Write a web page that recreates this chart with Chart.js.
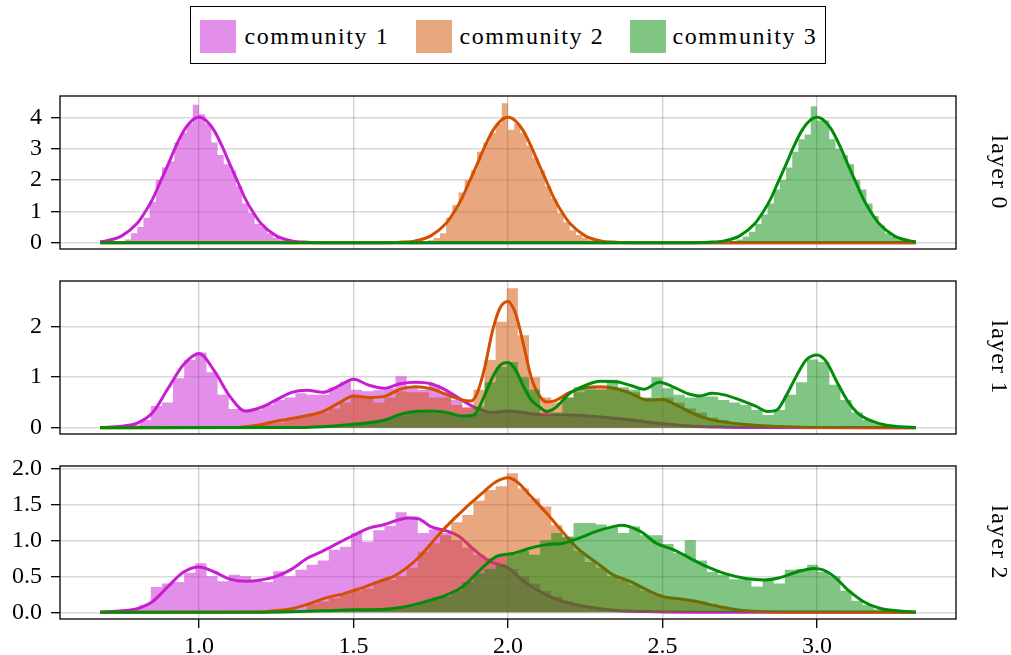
<!DOCTYPE html>
<html>
<head>
<meta charset="utf-8">
<script src="https://cdn.jsdelivr.net/npm/chart.js@4.4.1/dist/chart.umd.min.js"></script>
<style>
  html, body { margin: 0; padding: 0; background: #fff; }
  body { width: 1011px; height: 655px; overflow: hidden; position: relative; font-family: 'Liberation Serif', serif; }
  .panel { position: absolute; left: 0; }
  #legend { position: absolute; left: 190px; top: 6px; width: 636px; height: 58px; box-sizing: border-box; border: 1.5px solid #000; background: #fff; }
  .sw { position: absolute; top: 12.5px; width: 36px; height: 33px; }
  .lbl { position: absolute; top: 2px; height: 55px; line-height: 55px; font-size: 24px; letter-spacing: 1.6px; white-space: nowrap; color: #000; }
</style>
</head>
<body>
<div id="legend">
  <div class="sw" style="left:8.5px;background:rgba(200,30,210,0.5)"></div>
  <div class="lbl" style="left:53.5px">community 1</div>
  <div class="sw" style="left:224.5px;background:rgba(210,80,0,0.5)"></div>
  <div class="lbl" style="left:268.5px">community 2</div>
  <div class="sw" style="left:438.5px;background:rgba(2,140,10,0.5)"></div>
  <div class="lbl" style="left:481.5px">community 3</div>
</div>
<div class="panel" style="top:86px"><canvas id="c0" width="1011" height="173"></canvas></div>
<div class="panel" style="top:271px"><canvas id="c1" width="1011" height="173"></canvas></div>
<div class="panel" style="top:456px"><canvas id="c2" width="1011" height="199"></canvas></div>
<script>
// ---- community colours ----
const COLORS = ['200,30,210', '210,80,0', '2,140,10'];
const FONT = "'Liberation Serif', serif";

// ---- shared x range ----
const X_MIN = 0.55, X_MAX = 3.45;

// ================= layer 0 =================
const l0BinWidth = 0.02;
const l0HistStart = [0.74, 1.72, 2.72];
const l0HistC1 = [0.05, 0.1, 0.3, 0.5, 0.8, 1.3, 2.0, 2.4, 2.6, 3.2, 3.5, 3.8, 4.4, 4.1, 3.8, 3.2, 2.8, 2.5, 2.3, 1.8, 1.25, 0.95, 0.6, 0.5, 0.3, 0.15, 0.08, 0.04];
const l0HistC2 = [0.04, 0.08, 0.15, 0.3, 0.8, 1.2, 1.6, 2.0, 2.3, 2.9, 3.2, 3.5, 3.8, 4.45, 3.6, 3.8, 3.5, 3.1, 2.7, 2.3, 1.8, 1.4, 0.95, 0.65, 0.4, 0.25, 0.15, 0.08];
const l0HistC3 = [0.05, 0.1, 0.2, 0.35, 0.6, 0.9, 1.25, 1.7, 2.0, 2.4, 2.9, 3.3, 3.45, 4.35, 3.9, 3.9, 3.3, 3.0, 2.8, 2.5, 2.0, 1.7, 1.25, 0.85, 0.55, 0.3, 0.2, 0.1, 0.05];

const l0KdeXC1 = [0.68, 0.70, 0.75, 0.80, 0.825, 0.85, 0.875, 0.90, 0.925, 0.95, 0.975, 1.00, 1.025, 1.05, 1.075, 1.10, 1.125, 1.15, 1.175, 1.20, 1.25, 1.30, 1.35, 1.42, 3.32];
const l0KdeYC1 = [0.03, 0.06, 0.22, 0.62, 0.97, 1.4, 1.95, 2.5, 3.07, 3.56, 3.88, 4.0, 3.88, 3.56, 3.07, 2.5, 1.95, 1.4, 0.97, 0.62, 0.22, 0.06, 0.015, 0.002, 0];
const l0KdeXC2 = [0.68, 1.58, 1.65, 1.70, 1.75, 1.80, 1.825, 1.85, 1.875, 1.90, 1.925, 1.95, 1.975, 2.00, 2.025, 2.05, 2.075, 2.10, 2.125, 2.15, 2.175, 2.20, 2.25, 2.30, 2.35, 2.42, 3.32];
const l0KdeYC2 = [0, 0.002, 0.015, 0.06, 0.22, 0.62, 0.97, 1.4, 1.95, 2.5, 3.07, 3.56, 3.88, 4.0, 3.88, 3.56, 3.07, 2.5, 1.95, 1.4, 0.97, 0.62, 0.22, 0.06, 0.015, 0.002, 0];
const l0KdeXC3 = [0.68, 2.58, 2.65, 2.70, 2.75, 2.80, 2.825, 2.85, 2.875, 2.90, 2.925, 2.95, 2.975, 3.00, 3.025, 3.05, 3.075, 3.10, 3.125, 3.15, 3.175, 3.20, 3.25, 3.30, 3.32];
const l0KdeYC3 = [0, 0.002, 0.015, 0.06, 0.22, 0.62, 0.97, 1.4, 1.95, 2.5, 3.07, 3.56, 3.88, 4.0, 3.88, 3.56, 3.07, 2.5, 1.95, 1.4, 0.97, 0.62, 0.22, 0.06, 0.03];

// ================= layer 1 =================
const l1BinWidth = 0.036;
const l1HistStart = [0.736, 1.132, 1.42];
const l1HistC1 = [0.02, 0.05, 0.15, 0.43, 0.5, 0.98, 1.34, 1.49, 1.1, 0.65, 0.37, 0.35, 0.35, 0.45, 0.55, 0.6, 0.68, 0.65, 0.65, 0.79, 0.91, 0.75, 0.72, 0.74, 0.78, 1.02, 0.8, 0.75, 0.85, 0.7, 0.55, 0.4, 0.3, 0.3, 0.3, 0.35, 0.3, 0.3, 0.25, 0.22, 0.22, 0.22, 0.22, 0.22, 0.2, 0.18, 0.15, 0.12, 0.1, 0.08, 0.06, 0.04, 0.02];
const l1HistC2 = [0.02, 0.05, 0.08, 0.1, 0.15, 0.2, 0.25, 0.3, 0.38, 0.5, 0.65, 0.6, 0.5, 0.6, 0.72, 0.7, 0.7, 0.6, 0.6, 0.45, 0.4, 0.75, 1.34, 2.1, 2.76, 1.83, 1.0, 0.6, 0.5, 0.6, 0.7, 0.75, 0.8, 0.8, 0.75, 0.7, 0.58, 0.55, 0.6, 0.5, 0.38, 0.3, 0.2, 0.15, 0.1, 0.07, 0.05, 0.03, 0.02];
const l1HistC3 = [0.03, 0.05, 0.07, 0.1, 0.13, 0.18, 0.24, 0.3, 0.32, 0.32, 0.3, 0.25, 0.22, 0.42, 0.9, 1.2, 1.3, 1.0, 0.75, 0.25, 0.3, 0.6, 0.8, 0.8, 0.75, 0.95, 0.8, 0.75, 0.6, 1.0, 0.78, 0.65, 0.6, 0.62, 0.62, 0.55, 0.5, 0.45, 0.35, 0.25, 0.35, 0.65, 0.9, 1.35, 1.3, 0.85, 0.55, 0.3, 0.15, 0.08, 0.03, 0.01];

const l1KdeXC1 = [0.68, 0.75, 0.80, 0.85, 0.90, 0.95, 1.00, 1.05, 1.10, 1.15, 1.20, 1.25, 1.30, 1.35, 1.40, 1.45, 1.50, 1.55, 1.60, 1.65, 1.70, 1.75, 1.80, 1.85, 1.90, 1.95, 2.00, 2.05, 2.10, 2.20, 2.30, 2.40, 2.50, 2.60, 2.70, 2.80, 3.32];
const l1KdeYC1 = [0.005, 0.03, 0.09, 0.3, 0.78, 1.25, 1.47, 1.12, 0.62, 0.33, 0.4, 0.55, 0.7, 0.74, 0.7, 0.82, 0.96, 0.84, 0.78, 0.87, 0.9, 0.87, 0.74, 0.55, 0.38, 0.3, 0.33, 0.3, 0.26, 0.25, 0.21, 0.15, 0.08, 0.03, 0.01, 0.002, 0];
const l1KdeXC2 = [0.68, 1.10, 1.15, 1.20, 1.25, 1.30, 1.35, 1.40, 1.45, 1.50, 1.55, 1.60, 1.65, 1.70, 1.75, 1.80, 1.85, 1.88, 1.90, 1.925, 1.95, 1.975, 2.00, 2.025, 2.05, 2.075, 2.10, 2.125, 2.15, 2.20, 2.25, 2.30, 2.35, 2.40, 2.45, 2.50, 2.55, 2.60, 2.65, 2.70, 2.80, 2.90, 3.00, 3.32];
const l1KdeYC2 = [0, 0.003, 0.02, 0.06, 0.13, 0.18, 0.24, 0.32, 0.48, 0.63, 0.6, 0.62, 0.76, 0.81, 0.77, 0.66, 0.55, 0.53, 0.68, 1.2, 1.92, 2.38, 2.5, 2.25, 1.65, 1.0, 0.65, 0.51, 0.53, 0.7, 0.79, 0.81, 0.77, 0.67, 0.55, 0.56, 0.43, 0.28, 0.17, 0.11, 0.05, 0.02, 0.005, 0];
const l1KdeXC3 = [0.68, 1.30, 1.40, 1.45, 1.50, 1.55, 1.60, 1.65, 1.70, 1.75, 1.80, 1.85, 1.89, 1.92, 1.95, 1.975, 2.00, 2.025, 2.05, 2.075, 2.10, 2.125, 2.15, 2.20, 2.25, 2.30, 2.35, 2.40, 2.44, 2.49, 2.53, 2.58, 2.62, 2.66, 2.70, 2.75, 2.80, 2.84, 2.87, 2.90, 2.935, 2.965, 3.00, 3.03, 3.065, 3.10, 3.13, 3.17, 3.225, 3.32];
const l1KdeYC3 = [0, 0.003, 0.02, 0.04, 0.07, 0.1, 0.15, 0.26, 0.32, 0.33, 0.3, 0.23, 0.25, 0.58, 1.0, 1.24, 1.29, 1.14, 0.82, 0.55, 0.42, 0.32, 0.38, 0.68, 0.84, 0.92, 0.91, 0.83, 0.76, 0.9, 0.82, 0.68, 0.63, 0.68, 0.65, 0.55, 0.43, 0.32, 0.35, 0.63, 1.04, 1.34, 1.44, 1.31, 0.9, 0.52, 0.3, 0.15, 0.05, 0.005];

// ================= layer 2 =================
const l2BinWidth = 0.036;
const l2HistStart = [0.772, 1.276, 1.42];
const l2HistC1 = [0.04, 0.1, 0.35, 0.4, 0.42, 0.55, 0.68, 0.5, 0.43, 0.52, 0.5, 0.45, 0.42, 0.57, 0.5, 0.59, 0.66, 0.72, 0.87, 0.91, 1.1, 0.98, 1.14, 1.2, 1.39, 1.33, 1.1, 1.15, 1.1, 1.0, 0.9, 0.8, 0.75, 0.8, 0.6, 0.5, 0.4, 0.3, 0.22, 0.15, 0.1, 0.08, 0.05, 0.03, 0.02, 0.01];
const l2HistC2 = [0.02, 0.03, 0.12, 0.15, 0.2, 0.25, 0.3, 0.33, 0.43, 0.45, 0.5, 0.62, 0.84, 0.96, 1.07, 1.25, 1.35, 1.55, 1.7, 1.75, 1.93, 1.72, 1.58, 1.47, 1.21, 1.05, 0.85, 0.7, 0.62, 0.5, 0.45, 0.38, 0.3, 0.25, 0.2, 0.18, 0.17, 0.15, 0.12, 0.08, 0.05, 0.03, 0.02];
const l2HistC3 = [0.01, 0.02, 0.03, 0.04, 0.05, 0.05, 0.07, 0.09, 0.14, 0.18, 0.22, 0.3, 0.42, 0.54, 0.6, 0.66, 0.8, 0.85, 0.8, 1.0, 1.1, 1.05, 1.24, 1.24, 1.22, 1.18, 1.1, 1.19, 1.07, 1.07, 0.95, 0.82, 1.0, 0.72, 0.56, 0.52, 0.46, 0.46, 0.36, 0.45, 0.4, 0.59, 0.6, 0.66, 0.56, 0.5, 0.3, 0.16, 0.1, 0.04, 0.02, 0.01];

const l2KdeXC1 = [0.68, 0.75, 0.80, 0.85, 0.90, 0.95, 1.00, 1.05, 1.10, 1.15, 1.20, 1.25, 1.30, 1.35, 1.40, 1.45, 1.50, 1.55, 1.60, 1.65, 1.68, 1.71, 1.75, 1.80, 1.84, 1.89, 1.94, 2.00, 2.04, 2.09, 2.15, 2.20, 2.25, 2.34, 2.45, 2.60, 3.32];
const l2KdeYC1 = [0.003, 0.02, 0.05, 0.15, 0.36, 0.56, 0.63, 0.56, 0.46, 0.43, 0.45, 0.5, 0.6, 0.75, 0.85, 0.96, 1.07, 1.17, 1.22, 1.29, 1.31, 1.3, 1.19, 1.13, 1.06, 0.87, 0.71, 0.62, 0.47, 0.32, 0.19, 0.125, 0.08, 0.03, 0.01, 0.002, 0];
const l2KdeXC2 = [0.68, 1.20, 1.24, 1.30, 1.36, 1.41, 1.47, 1.52, 1.59, 1.63, 1.67, 1.72, 1.76, 1.80, 1.855, 1.91, 1.96, 2.00, 2.03, 2.07, 2.125, 2.18, 2.23, 2.29, 2.34, 2.395, 2.45, 2.50, 2.56, 2.61, 2.66, 2.72, 2.77, 2.88, 3.32];
const l2KdeYC2 = [0, 0.005, 0.02, 0.05, 0.125, 0.2, 0.26, 0.33, 0.44, 0.5, 0.61, 0.8, 1.0, 1.19, 1.42, 1.63, 1.81, 1.87, 1.81, 1.63, 1.375, 1.1, 0.87, 0.68, 0.52, 0.43, 0.31, 0.22, 0.185, 0.15, 0.1, 0.05, 0.02, 0.005, 0];
const l2KdeXC3 = [0.68, 1.20, 1.30, 1.40, 1.50, 1.59, 1.64, 1.69, 1.75, 1.80, 1.855, 1.91, 1.96, 2.02, 2.07, 2.125, 2.18, 2.23, 2.29, 2.34, 2.37, 2.43, 2.48, 2.535, 2.59, 2.64, 2.70, 2.77, 2.83, 2.88, 2.935, 2.99, 3.02, 3.055, 3.10, 3.15, 3.20, 3.26, 3.32];
const l2KdeYC3 = [0, 0.002, 0.008, 0.02, 0.035, 0.04, 0.06, 0.1, 0.17, 0.24, 0.36, 0.59, 0.77, 0.82, 0.89, 0.94, 0.96, 1.03, 1.13, 1.19, 1.21, 1.12, 0.96, 0.87, 0.75, 0.64, 0.54, 0.47, 0.45, 0.48, 0.56, 0.61, 0.59, 0.5, 0.31, 0.15, 0.06, 0.02, 0.005];

// ---- point builders ----
function histPoints(start, width, heights) {
  const pts = heights.map((h, i) => ({ x: start + i * width, y: h }));
  pts.push({ x: start + heights.length * width, y: 0 });
  return pts;
}
function kdePoints(xs, ys) {
  return xs.map((x, i) => ({ x: x, y: ys[i] }));
}

// histogram fill then density line, community 3 drawn on top
function panelDatasets(hists, kdes) {
  const ds = [];
  for (let c = 0; c < 3; c++) {
    ds.push({
      data: hists[c], stepped: 'before', fill: 'origin',
      backgroundColor: `rgba(${COLORS[c]},0.5)`, borderColor: 'rgba(0,0,0,0)', borderWidth: 0,
      pointRadius: 0, order: 5 - 2 * c
    });
    ds.push({
      data: kdes[c], fill: false, borderColor: `rgb(${COLORS[c]})`, borderWidth: 3,
      pointRadius: 0, cubicInterpolationMode: 'monotone', order: 4 - 2 * c
    });
  }
  return ds;
}

// frame around the plot area plus the rotated layer caption on the right
const framePlugin = {
  id: 'frame',
  afterDraw(chart, args, opts) {
    const { ctx, chartArea: a } = chart;
    ctx.save();
    ctx.strokeStyle = '#000';
    ctx.lineWidth = 1.3;
    ctx.strokeRect(a.left, a.top, a.right - a.left, a.bottom - a.top);
    ctx.fillStyle = '#000';
    ctx.font = `24px ${FONT}`;
    ctx.letterSpacing = '1.2px';
    ctx.translate(992, (a.top + a.bottom) / 2);
    ctx.rotate(Math.PI / 2);
    ctx.textAlign = 'center';
    ctx.textBaseline = 'alphabetic';
    ctx.fillText(opts.label, 0, 0);
    ctx.restore();
  }
};

Chart.defaults.font.family = FONT;
Chart.defaults.color = '#000';

function makePanel(id, cfg) {
  const bottomAxis = cfg.showX;
  new Chart(document.getElementById(id), {
    type: 'line',
    data: { datasets: panelDatasets(cfg.hists, cfg.kdes) },
    options: {
      responsive: false, animation: false, devicePixelRatio: 1,
      layout: { padding: { top: 10, right: 55, bottom: bottomAxis ? 0 : 10, left: 0 } },
      plugins: { legend: { display: false }, tooltip: { enabled: false }, frame: { label: cfg.label } },
      scales: {
        x: {
          type: 'linear', min: X_MIN, max: X_MAX,
          border: { display: false },
          grid: { color: 'rgba(0,0,0,0.18)', lineWidth: 1.4, drawTicks: bottomAxis, tickLength: 9, tickColor: '#000', tickWidth: 1.3 },
          ticks: { display: bottomAxis, stepSize: 0.5, includeBounds: false, padding: 4, font: { size: 24 }, color: '#000', maxRotation: 0,
                   callback: v => v.toFixed(1) },
          afterFit: s => { s.height = bottomAxis ? 36 : 0; s.paddingLeft = 0; s.paddingRight = 0; }
        },
        y: {
          min: cfg.yMin, max: cfg.yMax,
          border: { display: false },
          grid: { color: 'rgba(0,0,0,0.15)', lineWidth: 1.4, drawTicks: true, tickLength: 9, tickColor: '#000', tickWidth: 1.3 },
          ticks: { stepSize: cfg.yStep, includeBounds: false, padding: 9, font: { size: 24 }, color: '#000',
                   callback: v => v.toFixed(cfg.yDigits) },
          afterFit: s => { s.width = 60; s.paddingTop = 0; s.paddingBottom = 0; }
        }
      }
    },
    plugins: [framePlugin]
  });
}

makePanel('c0', {
  label: 'layer 0', showX: false, yMin: -0.2, yMax: 4.68, yStep: 1, yDigits: 0,
  hists: [histPoints(l0HistStart[0], l0BinWidth, l0HistC1), histPoints(l0HistStart[1], l0BinWidth, l0HistC2), histPoints(l0HistStart[2], l0BinWidth, l0HistC3)],
  kdes: [kdePoints(l0KdeXC1, l0KdeYC1), kdePoints(l0KdeXC2, l0KdeYC2), kdePoints(l0KdeXC3, l0KdeYC3)]
});
makePanel('c1', {
  label: 'layer 1', showX: false, yMin: -0.125, yMax: 2.905, yStep: 1, yDigits: 0,
  hists: [histPoints(l1HistStart[0], l1BinWidth, l1HistC1), histPoints(l1HistStart[1], l1BinWidth, l1HistC2), histPoints(l1HistStart[2], l1BinWidth, l1HistC3)],
  kdes: [kdePoints(l1KdeXC1, l1KdeYC1), kdePoints(l1KdeXC2, l1KdeYC2), kdePoints(l1KdeXC3, l1KdeYC3)]
});
makePanel('c2', {
  label: 'layer 2', showX: true, yMin: -0.093, yMax: 2.032, yStep: 0.5, yDigits: 1,
  hists: [histPoints(l2HistStart[0], l2BinWidth, l2HistC1), histPoints(l2HistStart[1], l2BinWidth, l2HistC2), histPoints(l2HistStart[2], l2BinWidth, l2HistC3)],
  kdes: [kdePoints(l2KdeXC1, l2KdeYC1), kdePoints(l2KdeXC2, l2KdeYC2), kdePoints(l2KdeXC3, l2KdeYC3)]
});
</script>
</body>
</html>
